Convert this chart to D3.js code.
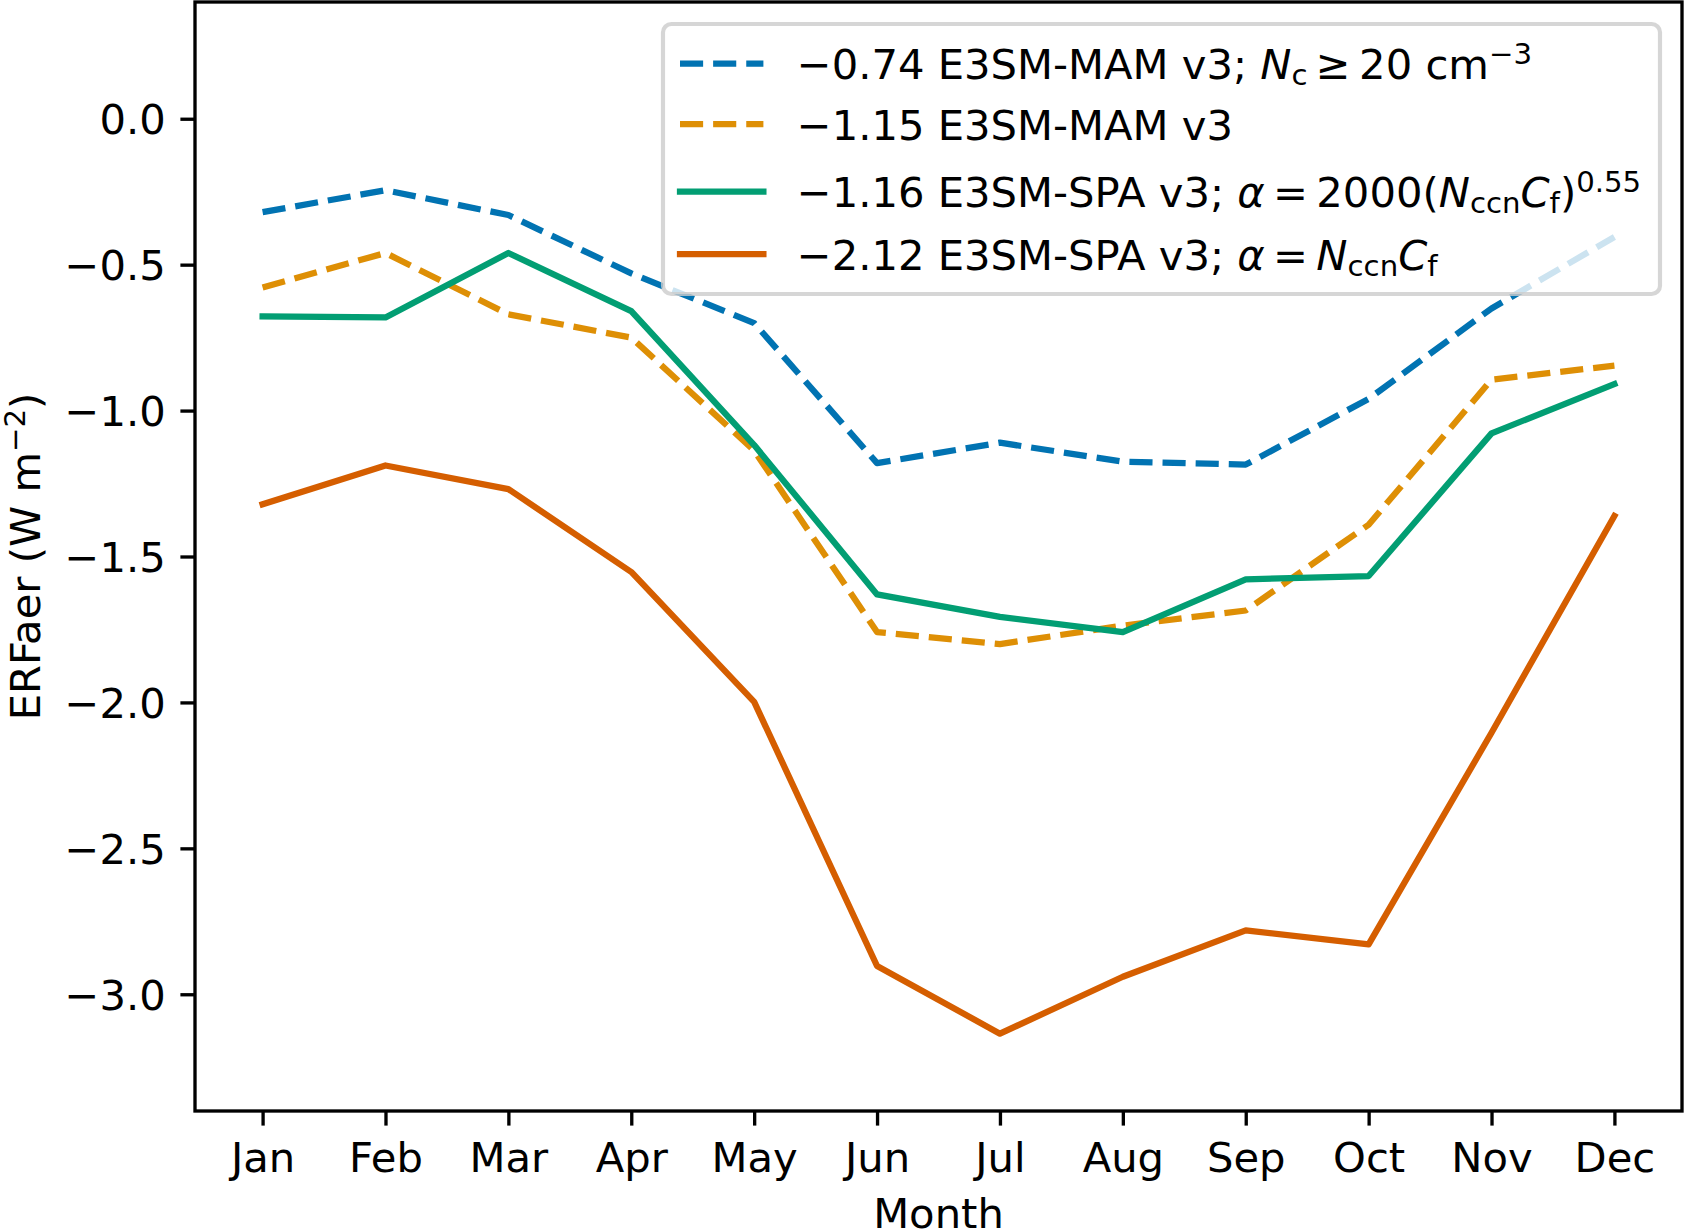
<!DOCTYPE html>
<html>
<head>
<meta charset="utf-8">
<script src="https://cdn.jsdelivr.net/npm/d3@7"></script>
<style>
  html, body { margin: 0; padding: 0; background: #fff; }
  svg { display: block; font-family: 'DejaVu Sans', sans-serif; }
</style>
</head>
<body>
<svg id="chart" width="1685" height="1230"></svg>
<script>
;'use strict';

// data (W m-2)
var months = ['Jan', 'Feb', 'Mar', 'Apr', 'May', 'Jun', 'Jul', 'Aug', 'Sep', 'Oct', 'Nov', 'Dec']
var mamNc20 = [-0.32, -0.245, -0.33, -0.53, -0.70, -1.18, -1.11, -1.175, -1.185, -0.96, -0.65, -0.405]
var mam = [-0.578, -0.46, -0.67, -0.75, -1.137, -1.759, -1.80, -1.737, -1.685, -1.391, -0.894, -0.846]
var spa2000 = [-0.677, -0.681, -0.46, -0.659, -1.118, -1.63, -1.707, -1.759, -1.578, -1.567, -1.078, -0.909]
var spaNccn = [-1.321, -1.188, -1.269, -1.553, -1.998, -2.903, -3.135, -2.94, -2.781, -2.829, -2.104, -1.361]
var yTicks = [0, -0.5, -1.0, -1.5, -2.0, -2.5, -3.0]

var seriesNames = ['mamNc20', 'mam', 'spa2000', 'spaNccn']
var seriesColors = ['#0173b2', '#de8f05', '#029e73', '#d55e00']
var seriesDashed = [true, true, false, false]

// legend labels as runs of text: it = italic, s = 'sub' | 'sup'
var legendLabels = [
  [ {t: '\u22120.74 E3SM-MAM v3; '}, {t: 'N', it: 1}, {t: 'c', s: 'sub'},
    {t: '\u2009\u2265\u200920 cm'}, {t: '\u22123', s: 'sup'} ],
  [ {t: '\u22121.15 E3SM-MAM v3'} ],
  [ {t: '\u22121.16 E3SM-SPA v3; '}, {t: '\u03b1', it: 1}, {t: '\u2009=\u20092000('},
    {t: 'N', it: 1}, {t: 'ccn', s: 'sub'}, {t: 'C', it: 1}, {t: 'f', s: 'sub'},
    {t: ')'}, {t: '0.55', s: 'sup'} ],
  [ {t: '\u22122.12 E3SM-SPA v3; '}, {t: '\u03b1', it: 1}, {t: '\u2009=\u2009'},
    {t: 'N', it: 1}, {t: 'ccn', s: 'sub'}, {t: 'C', it: 1}, {t: 'f', s: 'sub'} ]
]

var series = { mamNc20: mamNc20, mam: mam, spa2000: spa2000, spaNccn: spaNccn }

var fs = 41.7        // 10pt at 300 dpi
  , small = 0.7      // mathtext shrink for sub/superscripts
  , lw = 6.25        // 1.5pt
  , spw = 3.33       // 0.8pt
  , tickLen = 14.6
  , pad = 14.6
  , box = { left: 195, right: 1682, top: 2, bottom: 1111 }

var svg = d3.select('#chart')

var x = d3.scaleLinear().domain([-0.55, 11.55]).range([box.left, box.right])
var y = d3.scaleLinear().domain([-3.4, 0.4]).range([box.bottom, box.top])

var plot = svg.append('g')

// clip lines to the axes box
svg.append('clipPath').attr('id', 'clip')
  .append('rect')
  .attr('x', box.left).attr('y', box.top)
  .attr('width', box.right - box.left).attr('height', box.bottom - box.top)

var line = d3.line()
  .x(function(d, i) { return x(i) })
  .y(function(d) { return y(d) })

seriesNames.forEach(function(name, k) {
  plot.append('path')
    .datum(series[name])
    .attr('clip-path', 'url(#clip)')
    .attr('d', line)
    .attr('fill', 'none')
    .attr('stroke', seriesColors[k])
    .attr('stroke-width', lw)
    .attr('stroke-linejoin', 'round')
    .attr('stroke-linecap', seriesDashed[k] ? 'butt' : 'square')
    .attr('stroke-dasharray', seriesDashed[k] ? [3.7 * lw, 1.6 * lw].join(',') : null)
})

// axes
var xAxis = d3.axisBottom(x)
  .tickValues(d3.range(months.length))
  .tickFormat(function(i) { return months[i] })
  .tickSize(tickLen)
  .tickPadding(pad)
var yAxis = d3.axisLeft(y)
  .tickValues(yTicks)
  .tickFormat(function(v) { return d3.format('.1f')(v).replace('-', '\u2212') })
  .tickSize(tickLen)
  .tickPadding(pad)

var gx = svg.append('g').attr('transform', 'translate(0,' + box.bottom + ')').call(xAxis)
var gy = svg.append('g').attr('transform', 'translate(' + box.left + ',0)').call(yAxis)

;[gx, gy].forEach(function(g) {
  g.select('.domain').remove()
  g.selectAll('.tick line').attr('stroke', '#000').attr('stroke-width', spw)
  g.selectAll('.tick text')
    .attr('fill', '#000')
    .style('font-size', fs + 'px')
    .style('font-family', "'DejaVu Sans', sans-serif")
})
gx.selectAll('.tick text').attr('dy', null).attr('y', tickLen + pad + 0.76 * fs)
gy.selectAll('.tick text').attr('dy', null).attr('y', 0.729 * fs / 2)

// frame
svg.append('rect')
  .attr('x', box.left).attr('y', box.top)
  .attr('width', box.right - box.left).attr('height', box.bottom - box.top)
  .attr('fill', 'none').attr('stroke', '#000').attr('stroke-width', spw)
  .attr('stroke-linecap', 'square')

// axis labels
svg.append('text')
  .attr('x', (box.left + box.right) / 2).attr('y', 1228)
  .attr('text-anchor', 'middle')
  .style('font-size', fs + 'px')
  .text('Month')

var ylab = svg.append('text')
  .attr('transform', 'translate(' + [40, (box.top + box.bottom) / 2] + ') rotate(-90)')
  .attr('text-anchor', 'middle')
  .style('font-size', fs + 'px')
ylab.append('tspan').text('ERFaer (W m')
ylab.append('tspan').attr('dy', -0.35 * fs).style('font-size', (small * fs) + 'px').text('\u22122')
ylab.append('tspan').attr('dy', 0.35 * fs).text(')')

// legend
var leg = svg.append('g')
leg.append('rect')
  .attr('x', 663).attr('y', 24)
  .attr('width', 1660 - 663).attr('height', 294 - 24)
  .attr('rx', 0.2 * fs).attr('ry', 0.2 * fs)
  .attr('fill', '#fff').attr('fill-opacity', 0.8)
  .attr('stroke', '#ccc').attr('stroke-opacity', 0.8)
  .attr('stroke-width', 4.17)

var rowBase = [79, 139.5, 207, 269.5]
  , hx0 = 680
  , hx1 = 680 + 2 * fs
  , tx = hx1 + 0.8 * fs

legendLabels.forEach(function(runs, k) {
  var hy = rowBase[k] - 15.5
  leg.append('line')
    .attr('x1', hx0).attr('x2', hx1).attr('y1', hy).attr('y2', hy)
    .attr('stroke', seriesColors[k])
    .attr('stroke-width', lw)
    .attr('stroke-linecap', seriesDashed[k] ? 'butt' : 'square')
    .attr('stroke-dasharray', seriesDashed[k] ? [3.7 * lw, 1.6 * lw].join(',') : null)

  var t = leg.append('text')
    .attr('x', tx).attr('y', rowBase[k])
    .style('font-size', fs + 'px')
  var cur = 0
  runs.forEach(function(r) {
    var off = r.s === 'sup' ? -0.37 * fs : r.s === 'sub' ? 0.15 * fs : 0
    var sp = t.append('tspan')
      .attr('dy', off - cur)
      .text(r.t)
    if (r.s) sp.style('font-size', (small * fs) + 'px')
    if (r.it) sp.style('font-style', 'italic')
    cur = off
  })
})
</script>
</body>
</html>
